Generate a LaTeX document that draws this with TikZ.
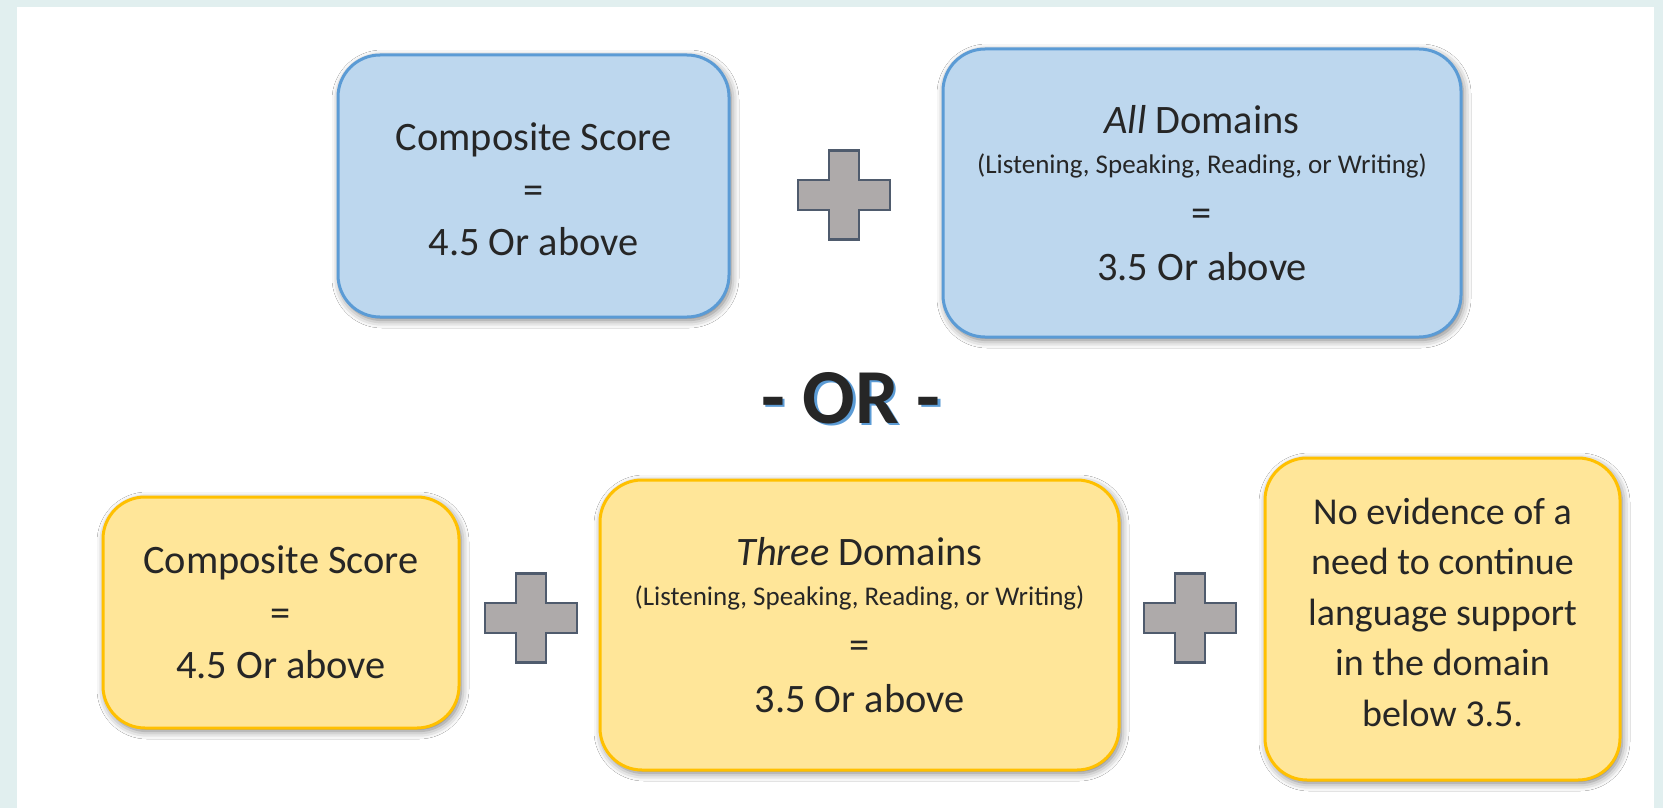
\documentclass[tikz,border=0pt]{standalone}
\usepackage{fontspec}
\setmainfont{Carlito}
\usepackage{tikz}
\usetikzlibrary{positioning, shadows.blur}
\definecolor{paleteal}{HTML}{E1EFEF}
\definecolor{skyfill}{HTML}{BDD7EE}
\definecolor{skyedge}{HTML}{5B9BD5}
\definecolor{goldfill}{HTML}{FFE699}
\definecolor{goldedge}{HTML}{FFC000}
\definecolor{plusgray}{HTML}{AEAAAA}
\definecolor{plusedge}{HTML}{4F5B6D}
\definecolor{inkgray}{HTML}{262626}
\newcommand{\smallline}[1]{{\fontsize{13.5}{16}\selectfont #1}}
\tikzset{
every node/.style={text=inkgray, align=center, inner sep=0pt}, % plain centred text everywhere
card/.style={rounded corners=21pt, line width=1.5pt, font=\fontsize{20.2}{26.25}\selectfont,
  blur shadow={shadow xshift=1pt, shadow yshift=-1.5pt, shadow blur radius=4pt, shadow opacity=55}}, % the common box look
bluecard/.style={card, draw=skyedge, fill=skyfill}, % upper row
goldcard/.style={card, draw=goldedge, fill=goldfill}, % lower row
plus sign/.pic={
  \draw[fill=plusgray, draw=plusedge, line width=1.2pt]
    (-15,-44.5) -- (15,-44.5) -- (15,-15) -- (46,-15) -- (46,15) -- (15,15) -- (15,44.5)
    -- (-15,44.5) -- (-15,15) -- (-46,15) -- (-46,-15) -- (-15,-15) -- cycle;
}
}

\begin{document}
\begin{tikzpicture}[x=0.5pt, y=-0.5pt]
      % page background
      \fill[paleteal] (0,0) rectangle (1663,808);
      \fill[white] (17,7) rectangle (1654,808);
      \useasboundingbox (0,0) rectangle (1663,808);

      % upper row
      \node[bluecard, minimum width=195.5pt, minimum height=131pt] (compA) at (533.5,186)
        {\rule{0pt}{17.5pt}Composite Score\\=\\4.5 Or above};
      \node[bluecard, minimum width=259pt, minimum height=144pt] (domA) at (1202,193)
        {\textit{All} Domains\\[-6.25pt]\smallline{(Listening, Speaking, Reading, or Writing)}\\=\\[0.75pt]3.5 Or above};
      \pic at (844,195) {plus sign};

      % the word between the rows
      \node[anchor=base, text=skyedge, font=\fontsize{38.9}{40}\selectfont\bfseries] (orshadow) at (853.5,425.5) {- OR -};
      \node[anchor=base, font=\fontsize{38.9}{40}\selectfont\bfseries] (orlabel) at (851,423) {- OR -};

      % lower row
      \node[goldcard, minimum width=178pt, minimum height=115.5pt] (compB) at (281,612.5)
        {Composite Score\\=\\4.5 Or above};
      \node[goldcard, minimum width=259.5pt, minimum height=145pt] (domB) at (859.5,625)
        {\textit{Three} Domains\\[-6.25pt]\smallline{(Listening, Speaking, Reading, or Writing)}\\=\\[0.75pt]3.5 Or above};
      \node[goldcard, minimum width=177.5pt, minimum height=161pt, font=\fontsize{19}{25.25}\selectfont] (noevid) at (1442.5,619)
        {No evidence of a\\need to continue\\language support\\in the domain\\below 3.5.\rule[-7pt]{0pt}{7pt}};
      \pic at (531,618) {plus sign};
      \pic at (1190,618) {plus sign};
    \end{tikzpicture}
\end{document}
